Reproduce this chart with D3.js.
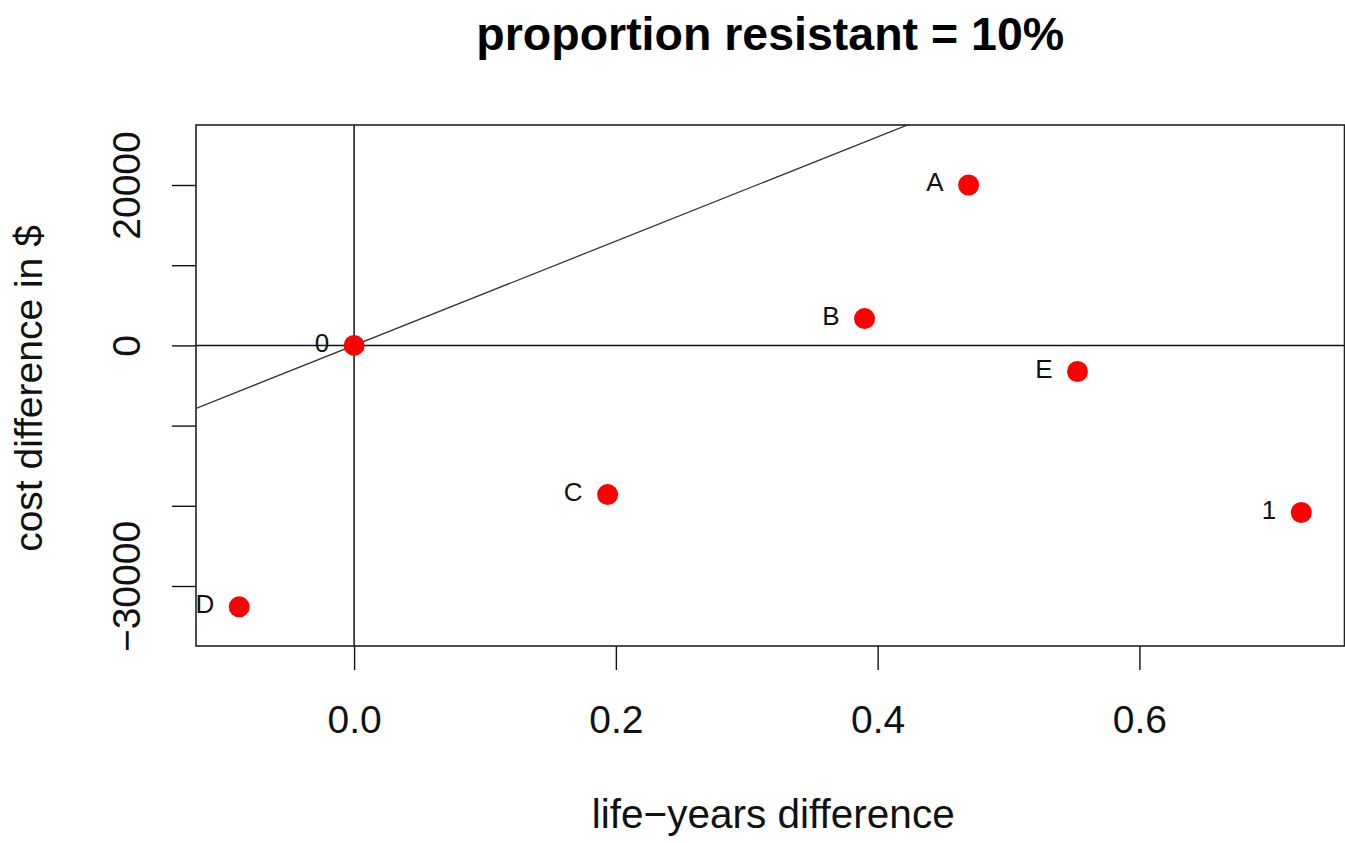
<!DOCTYPE html>
<html>
<head>
<meta charset="utf-8">
<script src="https://cdn.jsdelivr.net/npm/d3@7"></script>
<style>
  body { margin: 0; background: #fff; }
  svg { font-family: "Liberation Sans", Arial, sans-serif; }
</style>
</head>
<body>
<svg width="1345" height="843"></svg>
<script>
// strategies: label, life-years difference, cost difference ($)
var pointLabels = ["0", "A", "B", "C", "D", "E", "1"];
var lifeYears = [0, 0.4695, 0.390, 0.1937, -0.0878, 0.5527, 0.7237];
var costs = [0, 20000, 3340, -18600, -32600, -3250, -20840];

var xTicks = [0, 0.2, 0.4, 0.6];
var yTicks = [-30000, -20000, -10000, 0, 10000, 20000];
var yTickLabels = { "20000": "20000", "0": "0", "-30000": "\u221230000" };

var wtp = 65000; // slope of threshold line through origin

var titleText = "proportion resistant = 10%";
var xTitle = "life\u2212years difference";
var yTitle = "cost difference in $";

var svg = d3.select("svg"),
    margin = {top: 125, right: 0.5, bottom: 197, left: 196},
    width = +svg.attr("width") - margin.left - margin.right,
    height = +svg.attr("height") - margin.top - margin.bottom,
    g = svg.append("g").attr("transform", "translate(" + margin.left + "," + margin.top + ")");

var x = d3.scaleLinear()
    .domain([-0.1208, 0.7567])
    .range([0, width]);

var y = d3.scaleLinear()
    .domain([-37480, 27480])
    .range([height, 0]);

var data = pointLabels.map(function (d, i) {
    return {label: d, ly: lifeYears[i], cost: costs[i]};
});

// clip for the reference lines
svg.append("defs").append("clipPath")
    .attr("id", "plotclip")
    .append("rect")
    .attr("width", width)
    .attr("height", height);

// x axis
var xa = g.append("g")
    .attr("transform", "translate(0," + height + ")")
    .call(d3.axisBottom(x).tickValues(xTicks).tickFormat(d3.format(".1f")).tickSize(24).tickPadding(35));
xa.select(".domain").remove();
xa.selectAll("line").attr("stroke", "#111").attr("stroke-width", 1.4);
xa.selectAll("text").attr("font-size", 39).attr("fill", "#111").style("font-family", "Liberation Sans, Arial, sans-serif");

// y axis
var ya = g.append("g")
    .call(d3.axisLeft(y).tickValues(yTicks).tickSize(24).tickFormat(function (d) {
        return yTickLabels[String(d)] || "";
    }));
ya.select(".domain").remove();
ya.selectAll("line").attr("stroke", "#111").attr("stroke-width", 1.4);
ya.selectAll("text")
    .attr("x", null)
    .attr("dy", null)
    .attr("text-anchor", "middle")
    .attr("transform", "translate(-56,0) rotate(-90)")
    .attr("font-size", 39)
    .attr("fill", "#111")
    .style("font-family", "Liberation Sans, Arial, sans-serif");

// reference lines
var lines = g.append("g").attr("clip-path", "url(#plotclip)");
lines.append("line")
    .attr("x1", x(0)).attr("x2", x(0))
    .attr("y1", 0).attr("y2", height)
    .attr("stroke", "#111").attr("stroke-width", 1.5);
lines.append("line")
    .attr("x1", 0).attr("x2", width)
    .attr("y1", y(0)).attr("y2", y(0))
    .attr("stroke", "#111").attr("stroke-width", 1.5);
var xd = x.domain();
lines.append("line")
    .attr("x1", x(xd[0])).attr("y1", y(xd[0] * wtp))
    .attr("x2", x(xd[1])).attr("y2", y(xd[1] * wtp))
    .attr("stroke", "#333").attr("stroke-width", 1.3);

// box
g.append("rect")
    .attr("width", width)
    .attr("height", height)
    .attr("fill", "none")
    .attr("stroke", "#222")
    .attr("stroke-width", 1.6);

// points
g.selectAll("circle.pt")
    .data(data)
    .enter().append("circle")
    .attr("class", "pt")
    .attr("cx", function (d) { return x(d.ly); })
    .attr("cy", function (d) { return y(d.cost); })
    .attr("r", 10.5)
    .attr("fill", "#ff0000");

g.selectAll("text.lab")
    .data(data)
    .enter().append("text")
    .attr("class", "lab")
    .attr("x", function (d) { return x(d.ly) - 25; })
    .attr("y", function (d) { return y(d.cost) + 6.5; })
    .attr("text-anchor", "end")
    .attr("font-size", 26)
    .attr("fill", "#111")
    .text(function (d) { return d.label; });

// titles
svg.append("text")
    .attr("x", margin.left + width / 2)
    .attr("y", 50)
    .attr("text-anchor", "middle")
    .attr("font-size", 46.5)
    .attr("font-weight", "bold")
    .attr("fill", "#000")
    .text(titleText);

svg.append("text")
    .attr("x", margin.left + width / 2 + 3)
    .attr("y", 828)
    .attr("text-anchor", "middle")
    .attr("font-size", 40.5)
    .attr("fill", "#111")
    .text(xTitle);

svg.append("text")
    .attr("transform", "translate(42," + (margin.top + height / 2 + 3) + ") rotate(-90)")
    .attr("text-anchor", "middle")
    .attr("font-size", 39)
    .attr("fill", "#111")
    .text(yTitle);
</script>
</body>
</html>
